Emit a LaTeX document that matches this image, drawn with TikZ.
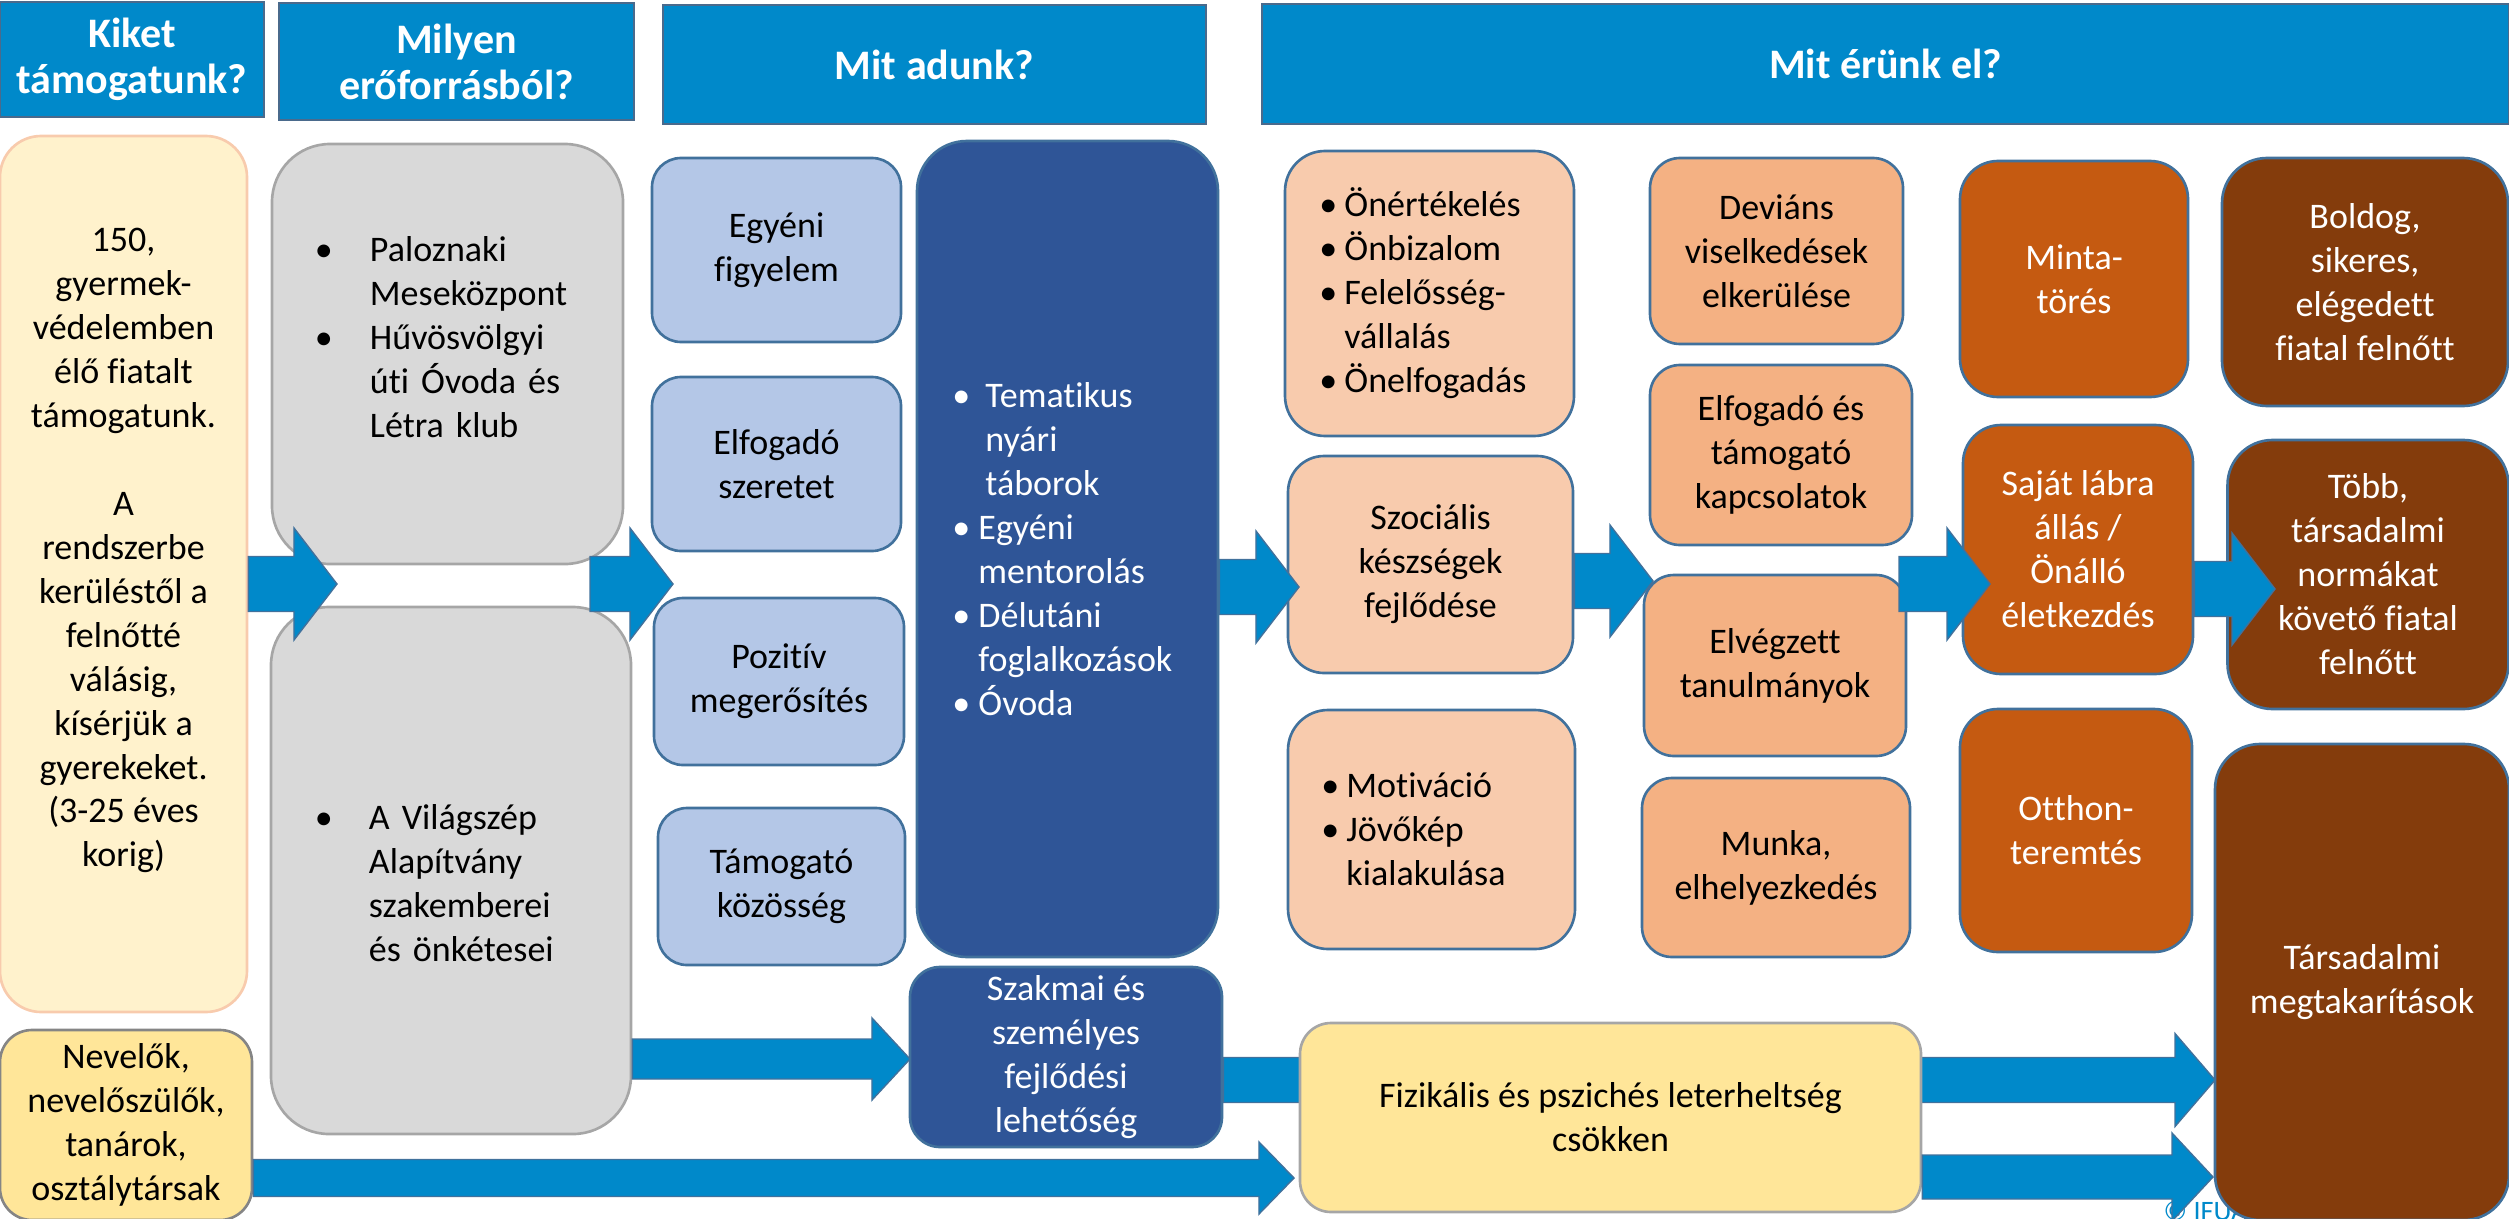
\documentclass[tikz,border=0pt]{standalone}
\usepackage{fontspec}
\setmainfont{Carlito}[Ligatures=NoCommon]
\usetikzlibrary{calc}
\hyphenpenalty=10000
\exhyphenpenalty=10000
\definecolor{hdrblue}{HTML}{0089CA}
\definecolor{hdredge}{HTML}{4A6A8C}
\definecolor{edgeblue}{HTML}{41719C}
\definecolor{creamfill}{HTML}{FFF2CC}
\definecolor{creamedge}{HTML}{F8CBAD}
\definecolor{yelfill}{HTML}{FFE699}
\definecolor{greyfill}{HTML}{D9D9D9}
\definecolor{greyedge}{HTML}{A6A6A6}
\definecolor{ltblue}{HTML}{B4C7E7}
\definecolor{dkblue}{HTML}{2F5597}
\definecolor{peach}{HTML}{F8CBAD}
\definecolor{orng}{HTML}{F4B183}
\definecolor{dkorng}{HTML}{C55A11}
\definecolor{brwn}{HTML}{843C0C}
\newcommand{\itm}[2]{\makebox[#1][l]{\textbullet}#2}
\newcommand{\cnt}[2]{\hspace*{#1}#2}

\begin{document}
\begin{tikzpicture}[
  x=0.01cm, y=-0.01cm,
  font=\fontsize{10.24pt}{12.5pt}\selectfont,
  sz/.style 2 args={minimum width=#1*0.01cm, minimum height=#2*0.01cm},
  box/.style={draw=edgeblue, line width=0.75pt, inner sep=0pt, align=center},
  lst/.style={align=left, text width=#1},
  hdr/.style={box, fill=hdrblue, draw=hdredge, line width=0.45pt, text=white,
    font=\bfseries\fontsize{11.95pt}{13.1pt}\selectfont},
  kidbox/.style={box, fill=creamfill, draw=creamedge, rounded corners=0.41cm},
  carerbox/.style={box, fill=yelfill, draw=greyedge!80!black, rounded corners=0.32cm},
  resbox/.style={box, fill=greyfill, draw=greyedge, rounded corners=0.58cm},
  givebox/.style={box, fill=ltblue, rounded corners=0.29cm},
  progbox/.style={box, fill=dkblue, text=white, rounded corners=0.5cm},
  outbox/.style={box, fill=peach, rounded corners=0.4cm},
  midbox/.style={box, fill=orng, rounded corners=0.3cm},
  effbox/.style={box, fill=dkorng, text=white, rounded corners=0.38cm},
  impbox/.style={box, fill=brwn, text=white, rounded corners=0.45cm},
  loadbox/.style={box, fill=yelfill, draw=greyedge, rounded corners=0.31cm},
  barrow/.style args={#1/#2/#3}{fill=hdrblue, draw=edgeblue, line width=0.4pt,
    to path={let \p1=(\tikztostart), \p2=(\tikztotarget) in
      (\x1,{\y1+#1}) -- ({\x2-#3},{\y1+#1}) -- ({\x2-#3},{\y2+#2}) -- (\x2,\y2)
      -- ({\x2-#3},{\y2-#2}) -- ({\x2-#3},{\y1-#1}) -- (\x1,{\y1-#1}) -- cycle}},
  bigarr/.style={barrow=0.275cm/0.56cm/0.43cm}
]
\useasboundingbox (0,0) rectangle (2509,1218);

\node[hdr, sz={264}{115}] (hkik) at (132,59.5) {Kiket\\támogatunk?};
\node[hdr, sz={355}{117}] (hres) at (456.5,61.5) {Milyen\\erőforrásból?};
\node[hdr, sz={543}{119}] (hadu) at (934.5,64.5) {Mit adunk?};
\node[hdr, sz={1247}{120}] (hela) at (1885.5,64) {Mit érünk el?};

\node[kidbox, sz={247}{876}, text depth=0.53cm] (kids) at (123.5,574)
  {150,\\gyermek-\\védelemben\\élő fiatalt\\támogatunk.\\[0.44cm]A\\rendszerbe\\kerüléstől a\\felnőtté\\válásig,\\kísérjük a\\gyerekeket.\\(3-25 éves\\korig)};
\node[carerbox, sz={252}{190}] (carers) at (126,1125) {Nevelők,\\nevelőszülők,\\tanárok,\\osztálytársak};

\node[resbox, sz={351}{420}, lst=2.65cm, text depth=2.1cm] (resA) at (447.5,354)
  {\itm{0.55cm}{Paloznaki}\\\cnt{0.55cm}{Meseközpont}\\\itm{0.55cm}{Hűvösvölgyi}\\\cnt{0.55cm}{úti Óvoda és}\\\cnt{0.55cm}{Létra klub}};
\node[resbox, sz={360}{527}, lst=2.72cm, text depth=1.06cm] (resB) at (451,870.5)
  {\itm{0.54cm}{A Világszép}\\\cnt{0.54cm}{Alapítvány}\\\cnt{0.54cm}{szakemberei}\\\cnt{0.54cm}{és önkétesei}};

\node[givebox, sz={249}{184}] (give1) at (776.5,250) {Egyéni\\figyelem};
\node[givebox, sz={249}{174}] (give2) at (776.5,464) {Elfogadó\\szeretet};
\node[givebox, sz={250}{167}] (give3) at (779,681.5) {Pozitív\\megerősítés};
\node[givebox, sz={247}{157}] (give4) at (781.5,886.5) {Támogató\\közösség};
\node[progbox, sz={301}{816}, lst=2.3cm] (prog) at (1067.5,549)
  {\itm{0.33cm}{Tematikus}\\\cnt{0.33cm}{nyári}\\\cnt{0.33cm}{táborok}\\\itm{0.26cm}{Egyéni}\\\cnt{0.26cm}{mentorolás}\\\itm{0.26cm}{Délutáni}\\\cnt{0.26cm}{foglalkozások}\\\itm{0.26cm}{Óvoda}};
\node[progbox, sz={312}{180}, rounded corners=0.3cm] (szak) at (1066,1057) {Szakmai és\\személyes\\fejlődési\\lehetőség};

\node[outbox, sz={289}{285}, lst=2.2cm] (selfv) at (1429.5,293.5)
  {\itm{0.25cm}{Önértékelés}\\\itm{0.25cm}{Önbizalom}\\\itm{0.25cm}{Felelősség-}\\\cnt{0.25cm}{vállalás}\\\itm{0.25cm}{Önelfogadás}};
\node[outbox, sz={285}{217}, rounded corners=0.36cm] (szoc) at (1430.5,564.5) {Szociális\\készségek\\fejlődése};
\node[outbox, sz={287}{239}, lst=2.2cm] (motiv) at (1431.5,829.5)
  {\itm{0.25cm}{Motiváció}\\\itm{0.25cm}{Jövőkép}\\\cnt{0.25cm}{kialakulása}};

\node[midbox, sz={253}{186}] (dev) at (1776.5,251) {Deviáns\\viselkedések\\elkerülése};
\node[midbox, sz={262}{180}] (kapcs) at (1781,455) {Elfogadó és\\támogató\\kapcsolatok};
\node[midbox, sz={262}{181}] (elv) at (1775,665.5) {Elvégzett\\tanulmányok};
\node[midbox, sz={268}{179}] (munka) at (1776,867.5) {Munka,\\elhelyezkedés};

\node[effbox, sz={228}{236}] (minta) at (2074,279) {Minta-\\törés};
\node[effbox, sz={230}{249}] (saj) at (2078,549.5) {Saját lábra\\állás /\\Önálló\\életkezdés};
\node[effbox, sz={232}{243}] (otthon) at (2076,830.5) {Otthon-\\teremtés};

\node[impbox, sz={286}{248}] (boldog) at (2365,282) {Boldog,\\sikeres,\\elégedett\\fiatal felnőtt};
\node[impbox, sz={281}{269}] (tobb) at (2368,574.5) {Több,\\társadalmi\\normákat\\követő fiatal\\felnőtt};
\node[anchor=base west, inner sep=0pt, text=hdrblue, font=\fontsize{8pt}{9pt}\selectfont] (ifua) at (2163,1220) {© IFUA};
\node[impbox, sz={294}{476}] (tars) at (2362,982) {Társadalmi\\megtakarítások};

\coordinate (t1) at (337,584);
\coordinate (s2) at (590,584);
\coordinate (t2) at (673,584);
\coordinate (t3) at (1299,587);
\coordinate (t4) at (1653,581);
\coordinate (s5) at (1899,584);
\coordinate (t5) at (1990,584);
\coordinate (t6) at (2275,589);
\coordinate (t7) at (910,1059);
\coordinate (t8) at (2215,1080);
\coordinate (t9) at (1294,1178);
\coordinate (t10) at (2213,1177);

\draw[barrow=0.225cm/0.465cm/0.4cm] (szak.east |- t8) to (t8);
\node[loadbox, sz={621}{189}] (fiz) at (1610.5,1117.5) {Fizikális és pszichés leterheltség\\csökken};

\draw[bigarr] (kids.east |- t1) to (t1);
\draw[bigarr] (s2) to (t2);
\draw[bigarr] (prog.east |- t3) to (t3);
\draw[bigarr] (szoc.east |- t4) to (t4);
\draw[bigarr] (s5) to (t5);
\draw[bigarr] (saj.east |- t6) to (t6);
\draw[barrow=0.2cm/0.41cm/0.38cm] (resB.east |- t7) to (t7);
\draw[barrow=0.185cm/0.36cm/0.35cm] (carers.east |- t9) to (t9);
\draw[barrow=0.22cm/0.44cm/0.41cm] (fiz.east |- t10) to (t10);
\end{tikzpicture}
\end{document}
